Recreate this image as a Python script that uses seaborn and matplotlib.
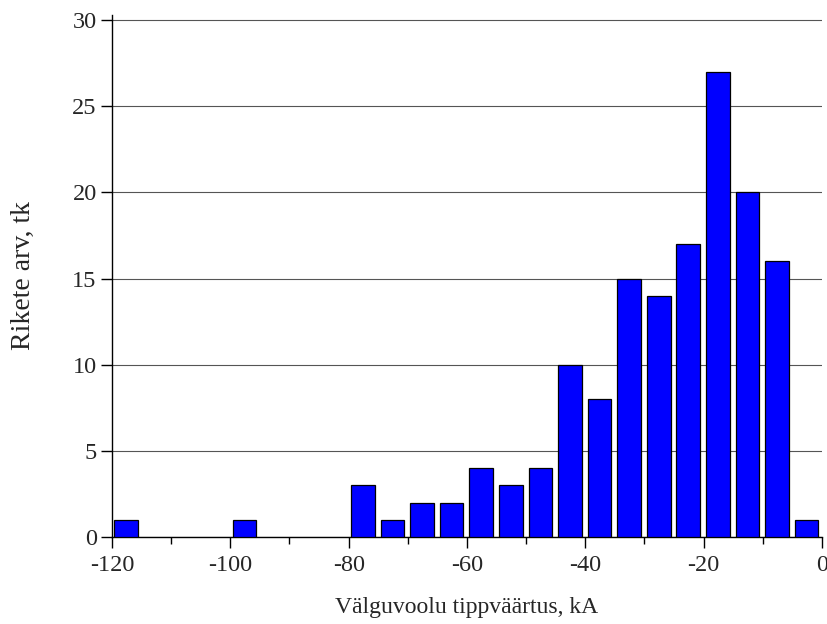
import matplotlib
matplotlib.use("Agg")
import matplotlib.pyplot as plt
import seaborn as sns
import pandas as pd
from matplotlib.ticker import MultipleLocator

# Bin left edges (kA) and counts
bin_left = [-120, -100, -80, -75, -70, -65, -60, -55, -50, -45, -40, -35, -30, -25, -20, -15, -10, -5]
counts = [1, 1, 3, 1, 2, 2, 4, 3, 4, 10, 8, 15, 14, 17, 27, 20, 16, 1]
x_label = "Välguvoolu tippväärtus, kA"
y_label = "Rikete arv, tk"

df = pd.DataFrame({"x": [b + 2.4 for b in bin_left], "count": counts})

sns.set_style("white")
plt.rcParams["font.family"] = ["Liberation Serif", "DejaVu Serif"]
plt.rcParams["axes.unicode_minus"] = False

fig = plt.figure(figsize=(8.28, 6.24), dpi=100)
ax = fig.add_axes([112/828, (624-537)/624, (822-112)/828, (537-15)/624])

sns.barplot(data=df, x="x", y="count", native_scale=True, width=0.8,
            color="#0000FF", saturation=1, edgecolor="black", linewidth=0.9, ax=ax, zorder=3)

ax.set_xlim(-120, 0)
ax.set_ylim(0, 30.3)
ax.xaxis.set_major_locator(MultipleLocator(20))
ax.xaxis.set_minor_locator(MultipleLocator(10))
ax.set_yticks([0, 5, 10, 15, 20, 25, 30])

ax.grid(axis="y", color="#555555", linewidth=0.8, zorder=0)
ax.set_axisbelow(True)
for s in ["top", "right"]:
    ax.spines[s].set_visible(False)
for s in ["left", "bottom"]:
    ax.spines[s].set_color("black")
    ax.spines[s].set_linewidth(1.0)

ax.tick_params(axis="both", which="major", direction="out", length=8, width=1, labelsize=17.5,
               color="black", pad=3)
ax.tick_params(axis="x", which="major", pad=5)
ax.tick_params(axis="x", which="minor", direction="out", length=5, width=1, color="black")
ax.tick_params(axis="x", which="both", bottom=True)
ax.tick_params(axis="y", left=True)

ax.set_xlabel(x_label, fontsize=17, labelpad=15)
ax.set_ylabel(y_label, fontsize=20, labelpad=26)

fig.savefig("out.png", dpi=100)
